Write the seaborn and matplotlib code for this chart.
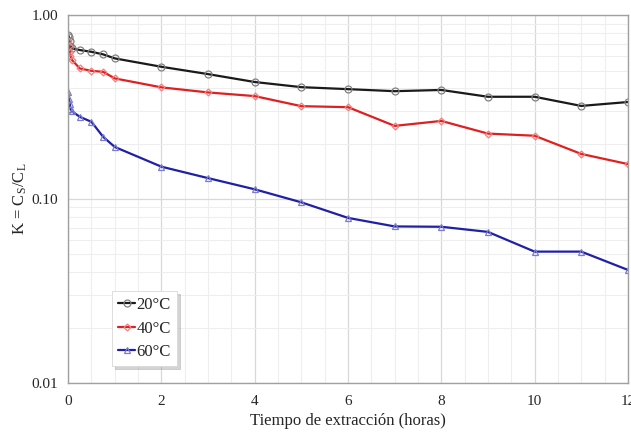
import numpy as np
import pandas as pd
import seaborn as sns
import matplotlib
matplotlib.use("Agg")
import matplotlib.pyplot as plt
from matplotlib.ticker import LogLocator, FixedLocator, NullFormatter, FuncFormatter

# tiempo de extraccion (horas)
tiempo = [0, 0.017, 0.033, 0.05, 0.083, 0.25, 0.5, 0.75, 1, 2, 3, 4, 5, 6, 7, 8, 9, 10, 11, 12]

k_20 = [0.78, 0.76, 0.72, 0.68, 0.66, 0.646, 0.632, 0.612, 0.582, 0.524, 0.478,
        0.433, 0.406, 0.396, 0.386, 0.392, 0.36, 0.36, 0.321, 0.337]
k_40 = [0.72, 0.68, 0.63, 0.60, 0.57, 0.513, 0.498, 0.492, 0.453, 0.405, 0.38,
        0.363, 0.32, 0.316, 0.25, 0.266, 0.227, 0.221, 0.176, 0.155]
k_60 = [0.38, 0.35, 0.33, 0.31, 0.30, 0.28, 0.263, 0.218, 0.192, 0.15, 0.13,
        0.113, 0.096, 0.079, 0.071, 0.0707, 0.0663, 0.0518, 0.0518, 0.0412]

series = {
    "20°C": (k_20, "#1a1a1a", "#808080", "o"),
    "40°C": (k_40, "#e02020", "#f08080", "D"),
    "60°C": (k_60, "#1f1fa8", "#7b7bd0", "^"),
}

sns.set_style("white")
plt.rcParams["font.family"] = ["Liberation Serif", "DejaVu Serif"]
plt.rcParams["mathtext.fontset"] = "stix"

fig = plt.figure(figsize=(6.31, 4.33), dpi=100)
ax = fig.add_axes([0.108, 0.1155, 0.887, 0.8495])

for name, (vals, col, mcol, mk) in series.items():
    df = pd.DataFrame({"t": tiempo, "k": vals})
    sns.lineplot(data=df, x="t", y="k", ax=ax, color=col, lw=1.6,
                 marker=mk, markersize=5 if mk != "D" else 3.5,
                 markerfacecolor="none", markeredgecolor=mcol,
                 markeredgewidth=0.9, label=name)

ax.set_yscale("log")
ax.set_xlim(0, 12)
ax.set_ylim(0.01, 1.0)

ax.xaxis.set_major_locator(FixedLocator(np.arange(0, 13, 2)))
ax.xaxis.set_minor_locator(FixedLocator(np.arange(0, 12.01, 0.5)))
ax.yaxis.set_major_locator(LogLocator(base=10))
ax.yaxis.set_minor_locator(LogLocator(base=10, subs=np.arange(2, 10)))
ax.yaxis.set_major_formatter(FuncFormatter(lambda v, p: f"{v:.2f}"))
ax.yaxis.set_minor_formatter(NullFormatter())

ax.grid(True, which="major", color="#d8d8d8", lw=0.9)
ax.grid(True, which="minor", color="#eeeeee", lw=0.8)
ax.set_axisbelow(True)

for s in ax.spines.values():
    s.set_color("#a0a0a0")
    s.set_linewidth(1.0)

ax.tick_params(which="major", direction="out", length=4, width=0.8, color="#808080",
               labelsize=11, pad=3)
ax.tick_params(which="minor", direction="out", length=2.5, width=0.7, color="#808080")
ax.tick_params(axis="x", pad=5)

ax.set_xlabel("Tiempo de extracción (horas)", fontsize=12, labelpad=3)
ax.set_ylabel(r"K = C$_{\mathregular{S}}$/C$_{\mathregular{L}}$", fontsize=12, labelpad=2)

leg = ax.legend(loc="lower left", bbox_to_anchor=(0.079, 0.046), borderaxespad=0,
                fontsize=12, frameon=True, fancybox=False,
                shadow={"ox": 2, "oy": -2, "color": "#a0a0a0", "alpha": 0.45},
                handlelength=1.0, handletextpad=0.1, borderpad=0.35,
                labelspacing=0.45)
leg.get_frame().set_edgecolor("#d8d8d8")
leg.get_frame().set_linewidth(0.6)

fig.savefig("out.png", dpi=100)
